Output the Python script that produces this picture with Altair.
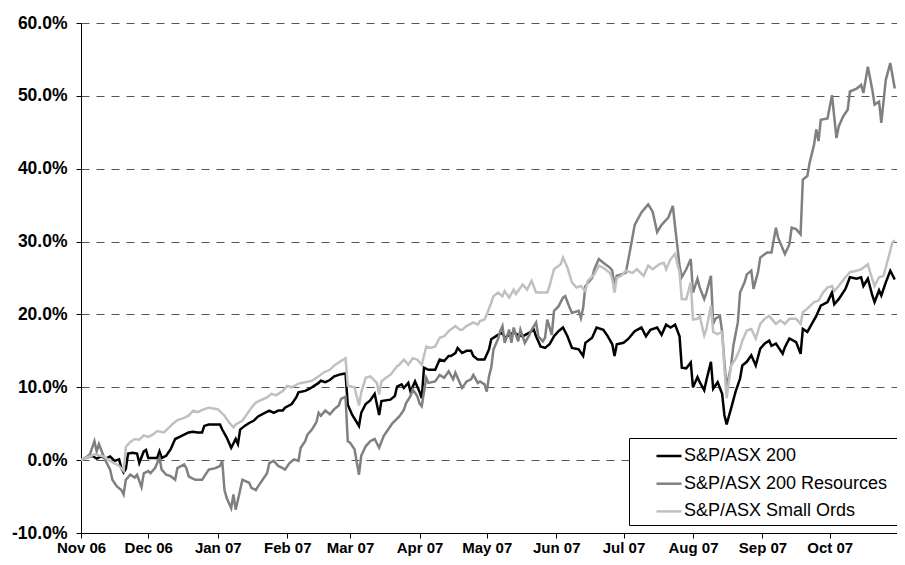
import altair as alt
import pandas as pd

# ---- data, values in % ----
asx200_dates = ["2006-11-01","2006-11-03","2006-11-06","2006-11-08","2006-11-10","2006-11-12","2006-11-14","2006-11-16","2006-11-18","2006-11-19","2006-11-20","2006-11-21","2006-11-22","2006-11-24","2006-11-26","2006-11-27","2006-11-29","2006-11-30",
 "2006-12-01","2006-12-03","2006-12-05","2006-12-06","2006-12-07","2006-12-09","2006-12-11","2006-12-13","2006-12-15","2006-12-17","2006-12-19","2006-12-21","2006-12-23","2006-12-25","2006-12-26","2006-12-28",
 "2007-01-02","2007-01-03","2007-01-05","2007-01-07","2007-01-09","2007-01-10","2007-01-11","2007-01-13","2007-01-15","2007-01-17","2007-01-19","2007-01-22","2007-01-24","2007-01-26","2007-01-28","2007-01-30","2007-01-31",
 "2007-02-03","2007-02-05","2007-02-06","2007-02-09","2007-02-11","2007-02-13","2007-02-15","2007-02-16","2007-02-18","2007-02-20","2007-02-22","2007-02-25","2007-02-27","2007-02-28",
 "2007-03-02","2007-03-05","2007-03-06","2007-03-08","2007-03-10","2007-03-12","2007-03-14","2007-03-15","2007-03-19","2007-03-21","2007-03-22","2007-03-24","2007-03-25","2007-03-27","2007-03-28","2007-03-30",
 "2007-04-01","2007-04-02","2007-04-03","2007-04-05","2007-04-08","2007-04-10","2007-04-12","2007-04-14","2007-04-15","2007-04-17","2007-04-18","2007-04-20","2007-04-22","2007-04-24","2007-04-25","2007-04-27","2007-04-30",
 "2007-05-02","2007-05-03","2007-05-06","2007-05-08","2007-05-09","2007-05-11","2007-05-13","2007-05-15","2007-05-17","2007-05-20","2007-05-22","2007-05-23","2007-05-25","2007-05-27","2007-05-29","2007-05-31",
 "2007-06-02","2007-06-04","2007-06-06","2007-06-08","2007-06-11","2007-06-13","2007-06-14","2007-06-17","2007-06-19","2007-06-22","2007-06-24","2007-06-26","2007-06-27","2007-06-28",
 "2007-07-01","2007-07-03","2007-07-06","2007-07-09","2007-07-11","2007-07-13","2007-07-16","2007-07-18","2007-07-20","2007-07-22","2007-07-24","2007-07-26","2007-07-27","2007-07-29","2007-07-31",
 "2007-08-01","2007-08-03","2007-08-04","2007-08-06","2007-08-07","2007-08-09","2007-08-10","2007-08-12","2007-08-14","2007-08-15","2007-08-16","2007-08-18","2007-08-20","2007-08-22","2007-08-23","2007-08-25","2007-08-27","2007-08-29","2007-08-31",
 "2007-09-02","2007-09-04","2007-09-05","2007-09-07","2007-09-10","2007-09-11","2007-09-13","2007-09-16","2007-09-18","2007-09-19","2007-09-21","2007-09-23","2007-09-25","2007-09-27","2007-09-30",
 "2007-10-02","2007-10-03","2007-10-05","2007-10-08","2007-10-10","2007-10-13","2007-10-15","2007-10-16","2007-10-18","2007-10-20","2007-10-21","2007-10-23","2007-10-24","2007-10-26","2007-10-28","2007-10-30"]
asx200 = [0.0,0.3,0.6,0.2,0.5,0.2,0.5,-0.1,0.1,-1.1,-1.7,-1.2,0.9,1.0,0.9,-0.4,1.2,1.4,
 0.3,0.3,0.3,1.2,0.3,0.6,1.5,2.9,3.2,3.5,3.8,3.9,3.8,3.8,4.7,4.9,
 4.9,4.2,3.1,1.7,2.9,2.2,4.2,4.7,5.1,5.4,6.0,6.5,6.8,6.5,6.8,6.8,7.2,
 7.7,8.6,9.3,9.5,9.8,10.2,10.6,10.9,10.7,11.0,11.5,11.8,11.9,7.6,
 6.2,4.7,6.5,7.7,8.2,9.1,6.2,8.1,8.3,8.8,10.1,10.4,9.9,10.6,9.4,10.8,
 9.4,8.5,12.7,12.4,12.4,13.8,13.6,14.3,14.3,14.7,15.4,14.7,15.0,15.0,14.3,13.8,13.8,
 15.2,16.6,17.2,17.5,16.8,17.2,17.5,17.2,17.0,17.5,17.9,17.0,15.6,15.4,15.9,17.0,
 17.7,18.2,17.0,15.4,15.2,14.3,16.1,16.8,18.2,17.9,17.0,15.9,14.3,15.9,
 16.1,16.6,17.7,18.2,17.0,17.9,18.2,17.2,18.6,18.2,18.6,17.0,12.7,12.6,13.4,
 10.0,11.4,10.7,9.6,11.0,13.5,9.8,10.7,9.1,6.2,4.9,7.1,9.4,11.2,13.0,13.5,14.4,13.0,15.3,
 16.0,16.4,15.7,16.0,14.6,15.5,16.7,16.2,14.6,18.0,17.6,18.7,19.8,21.2,21.7,
 23.0,21.4,22.1,23.5,25.1,24.9,25.1,23.9,24.9,22.6,21.7,23.3,22.6,24.4,26.0,24.8]

resources_dates = ["2006-11-01","2006-11-03","2006-11-05","2006-11-07","2006-11-08","2006-11-09","2006-11-11","2006-11-12","2006-11-14","2006-11-15","2006-11-17","2006-11-19","2006-11-20","2006-11-21","2006-11-23","2006-11-25","2006-11-26","2006-11-28","2006-11-29",
 "2006-12-01","2006-12-02","2006-12-04","2006-12-06","2006-12-07","2006-12-09","2006-12-11","2006-12-13","2006-12-14","2006-12-17","2006-12-18","2006-12-19","2006-12-20","2006-12-22","2006-12-25","2006-12-28","2006-12-31",
 "2007-01-02","2007-01-03","2007-01-04","2007-01-05","2007-01-07","2007-01-08","2007-01-09","2007-01-11","2007-01-12","2007-01-15","2007-01-16","2007-01-18","2007-01-19","2007-01-21","2007-01-23","2007-01-24","2007-01-26","2007-01-28","2007-01-30","2007-01-31",
 "2007-02-02","2007-02-04","2007-02-06","2007-02-07","2007-02-09","2007-02-10","2007-02-12","2007-02-14","2007-02-15","2007-02-16","2007-02-18","2007-02-20","2007-02-22","2007-02-24","2007-02-25","2007-02-27","2007-02-28",
 "2007-03-01","2007-03-03","2007-03-05","2007-03-06","2007-03-08","2007-03-10","2007-03-12","2007-03-14","2007-03-16","2007-03-18","2007-03-20","2007-03-23","2007-03-25","2007-03-26","2007-03-28","2007-03-29","2007-03-31",
 "2007-04-01","2007-04-02","2007-04-04","2007-04-05","2007-04-08","2007-04-10","2007-04-12","2007-04-14","2007-04-16","2007-04-17","2007-04-20","2007-04-22","2007-04-24","2007-04-25","2007-04-27","2007-04-28","2007-04-30",
 "2007-05-01","2007-05-02","2007-05-03","2007-05-04","2007-05-06","2007-05-07","2007-05-08","2007-05-09","2007-05-11","2007-05-12","2007-05-13","2007-05-15","2007-05-16","2007-05-18","2007-05-20","2007-05-21","2007-05-23","2007-05-24","2007-05-26","2007-05-27","2007-05-28","2007-05-30","2007-05-31",
 "2007-06-02","2007-06-04","2007-06-05","2007-06-07","2007-06-08","2007-06-11","2007-06-12","2007-06-13","2007-06-14","2007-06-17","2007-06-18","2007-06-20","2007-06-22","2007-06-25","2007-06-26","2007-06-27","2007-06-28","2007-06-30",
 "2007-07-02","2007-07-04","2007-07-06","2007-07-09","2007-07-12","2007-07-14","2007-07-16","2007-07-18","2007-07-21","2007-07-23","2007-07-24","2007-07-26","2007-07-27","2007-07-29","2007-07-31",
 "2007-08-01","2007-08-03","2007-08-04","2007-08-06","2007-08-07","2007-08-09","2007-08-10","2007-08-11","2007-08-13","2007-08-14","2007-08-15","2007-08-16","2007-08-18","2007-08-19","2007-08-21","2007-08-22","2007-08-24","2007-08-25","2007-08-27","2007-08-28","2007-08-30","2007-08-31",
 "2007-09-03","2007-09-05","2007-09-07","2007-09-08","2007-09-11","2007-09-13","2007-09-14","2007-09-16","2007-09-18","2007-09-19","2007-09-21","2007-09-22","2007-09-24","2007-09-25","2007-09-26","2007-09-27","2007-09-30",
 "2007-10-02","2007-10-04","2007-10-05","2007-10-07","2007-10-09","2007-10-10","2007-10-13","2007-10-15","2007-10-16","2007-10-18","2007-10-20","2007-10-21","2007-10-23","2007-10-24","2007-10-26","2007-10-28","2007-10-30"]
resources = [0.0,0.3,0.8,2.6,1.2,2.2,0.6,-0.1,-1.3,-2.7,-3.6,-4.1,-4.7,-2.7,-2.0,-2.4,-2.0,-3.7,-1.8,
 -1.5,-1.8,-1.1,0.3,-1.3,-2.0,-2.2,-2.7,-1.1,-0.6,-1.1,-2.2,-2.4,-2.7,-2.7,-1.3,-1.1,
 -0.8,-0.1,-4.1,-5.2,-6.6,-4.7,-6.8,-4.1,-2.7,-3.1,-3.8,-4.1,-3.6,-2.7,-1.8,-0.4,-0.1,-0.8,-1.1,-1.3,
 -0.4,0.1,-0.1,1.7,2.6,3.5,4.2,5.2,6.5,6.1,6.8,6.3,7.0,7.5,8.4,8.7,2.6,
 2.4,1.5,-2.0,0.6,1.9,2.6,2.9,1.7,3.3,4.2,5.1,6.0,6.9,7.8,8.8,9.7,8.8,
 7.8,7.4,11.3,10.6,10.8,11.7,11.3,12.2,11.1,12.0,9.9,10.8,11.1,11.7,10.6,10.8,10.4,
 9.4,11.5,12.7,15.2,16.6,17.7,18.4,16.1,17.9,16.1,18.2,16.3,17.9,16.1,17.2,17.9,18.9,17.0,16.3,16.8,19.3,17.2,20.5,
 21.1,22.3,22.5,20.9,20.2,20.5,19.5,20.9,23.9,25.0,26.2,27.6,27.1,26.4,26.0,23.9,25.3,25.5,
 25.7,28.9,32.3,34.0,35.1,34.1,31.3,32.3,33.3,34.9,32.1,26.7,25.1,26.2,27.6,
 23.0,24.9,23.7,22.1,23.0,25.3,18.7,19.4,19.8,17.6,13.5,10.0,13.0,15.7,18.9,23.0,24.4,25.5,26.0,23.5,25.8,27.8,
 28.5,28.5,31.9,30.5,28.3,29.6,31.9,31.7,31.0,38.5,39.0,40.8,43.3,45.4,43.8,46.7,46.9,
 50.1,44.2,45.8,47.2,48.1,50.6,51.0,51.5,50.4,54.0,50.8,48.8,49.2,46.3,52.2,54.5,51.0]

smallords_dates = ["2006-11-01","2006-11-04","2006-11-07","2006-11-11","2006-11-14","2006-11-18","2006-11-20","2006-11-21","2006-11-23","2006-11-25","2006-11-27","2006-11-29",
 "2006-12-01","2006-12-03","2006-12-05","2006-12-08","2006-12-10","2006-12-12","2006-12-14","2006-12-17","2006-12-19","2006-12-21","2006-12-23","2006-12-26","2006-12-28","2006-12-30",
 "2007-01-01","2007-01-04","2007-01-06","2007-01-08","2007-01-09","2007-01-12","2007-01-14","2007-01-16","2007-01-18","2007-01-20","2007-01-23","2007-01-25","2007-01-27","2007-01-29","2007-01-30",
 "2007-02-01","2007-02-03","2007-02-06","2007-02-09","2007-02-12","2007-02-15","2007-02-17","2007-02-20","2007-02-22","2007-02-25","2007-02-27","2007-02-28",
 "2007-03-03","2007-03-05","2007-03-06","2007-03-08","2007-03-10","2007-03-13","2007-03-14","2007-03-15","2007-03-17","2007-03-19","2007-03-22","2007-03-23","2007-03-25","2007-03-27","2007-03-29","2007-03-31",
 "2007-04-02","2007-04-04","2007-04-06","2007-04-08","2007-04-10","2007-04-12","2007-04-14","2007-04-17","2007-04-19","2007-04-20","2007-04-22","2007-04-25","2007-04-27","2007-04-28","2007-04-30",
 "2007-05-01","2007-05-03","2007-05-04","2007-05-06","2007-05-08","2007-05-09","2007-05-11","2007-05-13","2007-05-14","2007-05-17","2007-05-19","2007-05-21","2007-05-23","2007-05-26","2007-05-28","2007-05-29","2007-05-31",
 "2007-06-03","2007-06-04","2007-06-06","2007-06-08","2007-06-10","2007-06-12","2007-06-14","2007-06-15","2007-06-18","2007-06-20","2007-06-22","2007-06-25","2007-06-26","2007-06-27","2007-06-28","2007-06-30",
 "2007-07-02","2007-07-05","2007-07-07","2007-07-10","2007-07-12","2007-07-14","2007-07-17","2007-07-19","2007-07-20","2007-07-22","2007-07-24","2007-07-26","2007-07-27","2007-07-29","2007-07-31",
 "2007-08-01","2007-08-03","2007-08-04","2007-08-06","2007-08-07","2007-08-09","2007-08-10","2007-08-12","2007-08-14","2007-08-15","2007-08-16","2007-08-18","2007-08-20","2007-08-22","2007-08-23","2007-08-25","2007-08-27","2007-08-29","2007-08-31",
 "2007-09-02","2007-09-04","2007-09-07","2007-09-09","2007-09-11","2007-09-13","2007-09-16","2007-09-18","2007-09-19","2007-09-21","2007-09-24","2007-09-26","2007-09-28","2007-09-30",
 "2007-10-02","2007-10-03","2007-10-05","2007-10-08","2007-10-10","2007-10-13","2007-10-15","2007-10-18","2007-10-19","2007-10-21","2007-10-23","2007-10-25","2007-10-27","2007-10-29","2007-10-30"]
smallords = [0.0,0.4,0.8,0.5,-0.1,-0.8,-1.5,1.8,2.5,2.9,2.8,3.4,
 3.2,3.5,4.0,3.8,4.4,5.0,5.5,5.8,6.1,6.8,6.6,7.0,7.2,7.1,
 7.0,6.1,5.2,4.5,4.9,5.4,6.3,7.2,7.9,8.2,8.6,9.1,8.9,9.3,9.5,
 10.2,10.0,10.5,10.7,10.9,11.5,12.0,12.4,13.0,13.6,14.0,10.2,
 10.0,7.5,9.3,11.3,11.5,10.6,9.0,10.8,11.3,11.7,12.9,13.1,13.8,13.1,14.0,13.8,
 13.1,15.6,15.4,15.6,16.8,17.0,17.7,18.4,17.9,17.9,18.4,18.9,18.6,19.1,19.3,
 20.0,21.6,22.5,23.0,22.5,23.2,22.3,23.4,22.8,24.1,23.4,24.6,23.0,23.0,23.0,23.9,26.2,
 26.9,27.8,26.4,24.4,23.7,23.9,23.2,24.6,25.5,26.7,26.4,25.7,24.8,23.0,25.0,25.3,
 26.0,25.7,26.2,25.3,26.7,26.2,26.9,27.1,26.2,27.6,28.3,25.7,22.1,22.1,24.4,
 19.3,19.4,19.8,17.1,18.0,21.2,17.6,17.3,17.6,12.6,8.5,13.0,13.9,15.3,16.4,17.8,18.0,16.7,18.7,
 19.4,19.8,18.7,19.2,18.7,19.4,19.4,18.7,20.3,20.8,21.7,21.9,23.0,23.7,
 23.9,23.2,23.9,25.1,25.8,26.0,26.2,26.9,25.8,23.9,25.1,25.3,27.6,29.9,30.2]

series_names = ["S&P/ASX 200", "S&P/ASX 200 Resources", "S&P/ASX Small Ords"]
series_colors = ["#000000", "#808080", "#C0C0C0"]
y_ticks = [-10, 0, 10, 20, 30, 40, 50, 60]
month_ticks = [(2006, 11), (2006, 12), (2007, 1), (2007, 2), (2007, 3), (2007, 4),
               (2007, 5), (2007, 6), (2007, 7), (2007, 8), (2007, 9), (2007, 10)]

rows = []
for name, ds, vs in zip(series_names,
                        [asx200_dates, resources_dates, smallords_dates],
                        [asx200, resources, smallords]):
    for d, v in zip(ds, vs):
        rows.append({"date": d, "value": v, "series": name})
df = pd.DataFrame(rows)

FONT = "Liberation Sans"

x_axis = alt.Axis(
    values=[alt.DateTime(year=y, month=m, date=1, utc=True) for y, m in month_ticks],
    labelExpr="utcFormat(datum.value, '%b %y')",
    title=None, grid=False, domainColor="black", domainWidth=1,
    tickColor="black", tickSize=5, labelFont=FONT, labelFontWeight="bold",
    labelFontSize=15, labelColor="black", labelPadding=2,
    labelOverlap=False, labelFlush=False,
)
y_axis = alt.Axis(
    values=y_ticks,
    labelExpr="(datum.value < 0 ? '-' : '') + format(abs(datum.value), '.1f') + '%'",
    title=None, grid=True, gridDash=[8, 7], gridColor="#555555", gridWidth=1,
    domainColor="black", tickColor="black", tickSize=5,
    labelFont=FONT, labelFontWeight="bold", labelFontSize=17.5, labelColor="black",
    labelPadding=9,
)

# the white one-letter title only widens the framed legend box so that its
# right edge runs past the chart edge, as in the reference
legend = alt.Legend(
    orient="none", legendX=548, legendY=415,
    title="M", titleColor="white", titleOrient="right", titleFontSize=10, titlePadding=1,
    padding=4, rowPadding=4.7, symbolType="stroke", symbolSize=625,
    symbolStrokeWidth=2.5, symbolOffset=22, labelOffset=1, labelLimit=400,
    labelFont=FONT, labelFontSize=18, labelColor="black",
    strokeColor="black", fillColor="white",
)

chart = alt.Chart(df).mark_line(strokeWidth=2.5, clip=True).encode(
    x=alt.X("date:T",
            scale=alt.Scale(type="utc", domain=[alt.DateTime(year=2006, month=11, date=1, utc=True),
                                                alt.DateTime(year=2007, month=10, date=31, utc=True)]),
            axis=x_axis),
    y=alt.Y("value:Q", scale=alt.Scale(domain=[-10, 60], nice=False, zero=False), axis=y_axis),
    color=alt.Color("series:N", scale=alt.Scale(domain=series_names, range=series_colors),
                    legend=legend, sort=series_names),
).properties(
    width=816, height=510,
    padding={"left": 73, "top": 15, "right": 0, "bottom": 24},
    autosize=alt.AutoSizeParams(type="none"),
    background="white",
).configure_view(stroke=None)

chart.save("out.html", embed_options={"renderer": "svg", "actions": False})
